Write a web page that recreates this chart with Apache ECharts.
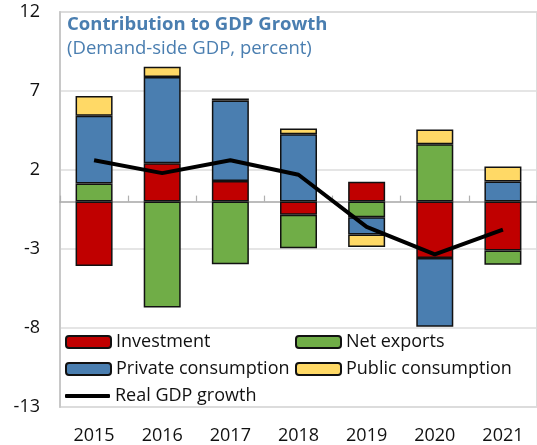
<!DOCTYPE html>
<html>
<head>
<meta charset="utf-8">
<script src="https://cdn.jsdelivr.net/npm/echarts@6/dist/echarts.min.js"></script>
<style>
  html, body { margin: 0; padding: 0; background: #fff; }
  #chart { width: 537px; height: 445px; }
</style>
</head>
<body>
<div id="chart"></div>
<script>
// Contributions to GDP growth by demand component, percentage points
const years = ['2015', '2016', '2017', '2018', '2019', '2020', '2021'];
const investment = [-4.07, 2.43, 1.30, -0.84, 1.25, -3.57, -3.09];
const netExports = [1.15, -6.70, -3.97, -2.12, -0.99, 3.63, -0.90];
const privateConsumption = [4.28, 5.46, 5.10, 4.26, -1.09, -4.35, 1.28];
const publicConsumption = [1.26, 0.65, 0.12, 0.37, -0.80, 0.94, 0.94];
const realGdpGrowth = [2.62, 1.80, 2.62, 1.70, -1.60, -3.34, -1.77];
const yTicks = { min: -13, max: 12, step: 5 };

const FONT = 'Open Sans';
const TEXT_SIZE = 18;
const chart = echarts.init(document.getElementById('chart'), null, { renderer: 'canvas' });

function barSeries(name, data, color) {
  return {
    name: name,
    type: 'bar',
    stack: 'contrib',
    xAxisIndex: 0,
    data: data,
    barWidth: 37,
    itemStyle: { color: color, borderColor: '#111', borderWidth: 1.5 },
    emphasis: { disabled: true }
  };
}

function legendAt(name, left, top, extra) {
  return Object.assign({
    data: [name],
    left: left,
    top: top,
    itemWidth: 45,
    itemHeight: 12,
    itemGap: 0,
    padding: 0,
    selectedMode: false,
    textStyle: { fontFamily: FONT, fontSize: TEXT_SIZE, color: '#111' }
  }, extra || {});
}

chart.setOption({
  animation: false,
  backgroundColor: '#fff',
  title: {
    text: 'Contribution to GDP Growth',
    subtext: '(Demand-side GDP, percent)',
    left: 63,
    top: 15,
    padding: [0, 4],
    itemGap: 5,
    textStyle: { fontFamily: FONT, fontSize: 18.5, fontWeight: 'bold', color: '#4a7eb0' },
    subtextStyle: { fontFamily: FONT, fontSize: 18.5, color: '#4a7eb0' }
  },
  legend: [
    legendAt('Investment', 65, 333),
    legendAt('Net exports', 295, 333),
    legendAt('Private consumption', 65, 360),
    legendAt('Public consumption', 295, 360),
    legendAt('Real GDP growth', 65, 387, {
      data: [{ name: 'Real GDP growth', icon: 'roundRect' }],
      itemHeight: 4
    })
  ],
  grid: {
    left: 60,
    top: 12,
    width: 485,
    height: 397,
    show: true,
    borderColor: '#d0d0d0',
    borderWidth: 1.5,
    backgroundColor: 'transparent'
  },
  xAxis: [
    {
      type: 'category',
      data: years,
      position: 'bottom',
      axisLine: { show: false, onZero: false },
      axisTick: { show: false },
      axisLabel: { fontFamily: FONT, fontSize: TEXT_SIZE, color: '#111', margin: 20 }
    },
    {
      type: 'category',
      data: years,
      position: 'bottom',
      axisLine: { show: true, onZero: true, lineStyle: { color: '#a6a6a6', width: 1.5 } },
      axisTick: { show: true, inside: true, length: 6, lineStyle: { color: '#b0b0b0', width: 1.2 } },
      axisLabel: { show: false }
    }
  ],
  yAxis: {
    type: 'value',
    min: yTicks.min,
    max: yTicks.max,
    interval: yTicks.step,
    axisLine: { show: true, lineStyle: { color: '#c8c8c8', width: 2 } },
    axisTick: { show: false },
    splitLine: { show: true, lineStyle: { color: '#dcdcdc', width: 1.5 } },
    axisLabel: { fontFamily: FONT, fontSize: TEXT_SIZE, color: '#111', margin: 20 }
  },
  series: [
    barSeries('Investment', investment, '#c00000'),
    barSeries('Net exports', netExports, '#70ad47'),
    barSeries('Private consumption', privateConsumption, '#4a7eb0'),
    barSeries('Public consumption', publicConsumption, '#ffd966'),
    {
      name: 'Real GDP growth',
      type: 'line',
      xAxisIndex: 0,
      data: realGdpGrowth,
      symbol: 'none',
      lineStyle: { color: '#000', width: 4 },
      itemStyle: { color: '#000' },
      z: 5,
      emphasis: { disabled: true }
    }
  ]
});
</script>
</body>
</html>
